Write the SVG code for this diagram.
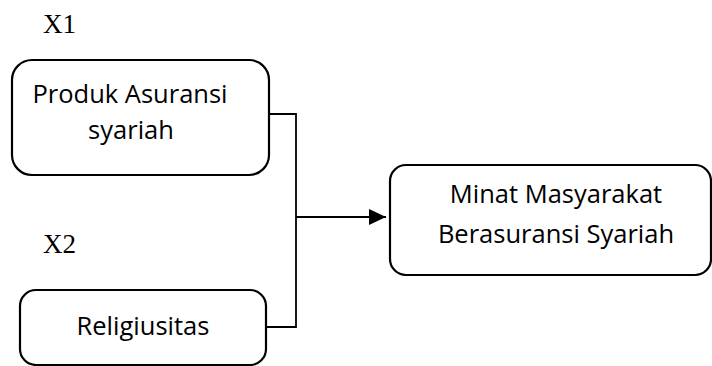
<svg xmlns="http://www.w3.org/2000/svg" width="712" height="366" viewBox="0 0 712 366">
  <style>
    .box { fill: #ffffff; stroke: #000000; stroke-width: 2.2; }
    .lbl { font-family: "Open Sans", "Liberation Sans", sans-serif; font-size: 25.5px; fill: #000000; text-anchor: middle; }
    .var { font-family: "Liberation Serif", "Times New Roman", serif; font-size: 27px; fill: #000000; }
    .conn { fill: none; stroke: #000000; stroke-width: 1.8; }
  </style>
  <defs>
    <marker id="arrow" markerWidth="17" markerHeight="16" refX="17" refY="8" orient="auto" markerUnits="userSpaceOnUse">
      <path d="M0,0 L17,8 L0,16 Z" fill="#000000"/>
    </marker>
  </defs>
  <rect width="712" height="366" fill="#ffffff"/>

  <text class="var" x="43" y="33">X1</text>
  <text class="var" x="43" y="253">X2</text>

  <g id="connectors">
    <path class="conn" d="M269,114 H296 V327 H266"/>
    <path class="conn" d="M296,217 H386" marker-end="url(#arrow)"/>
  </g>

  <g id="produk">
    <rect class="box" x="12" y="60" width="257" height="115" rx="20" ry="20"/>
    <text class="lbl" x="130" y="103">Produk Asuransi</text>
    <text class="lbl" x="131" y="139">syariah</text>
  </g>

  <g id="religiusitas">
    <rect class="box" x="20" y="290" width="246" height="75" rx="16" ry="16"/>
    <text class="lbl" x="143" y="335">Religiusitas</text>
  </g>

  <g id="minat">
    <rect class="box" x="390" y="165" width="321" height="110" rx="16" ry="16"/>
    <text class="lbl" x="556" y="203">Minat Masyarakat</text>
    <text class="lbl" x="556" y="243">Berasuransi Syariah</text>
  </g>
</svg>
